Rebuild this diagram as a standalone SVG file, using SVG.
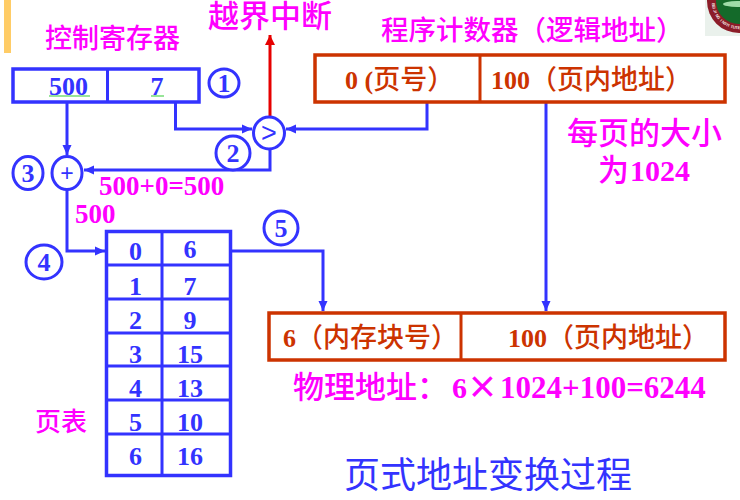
<svg xmlns="http://www.w3.org/2000/svg" width="740" height="500" viewBox="0 0 740 500">
<defs>
<marker id="a" markerUnits="userSpaceOnUse" markerWidth="11" markerHeight="10" refX="10" refY="5" orient="auto"><path d="M0 .5L10 5L0 9.500z" fill="#3333ff"/></marker>
<marker id="r" markerUnits="userSpaceOnUse" markerWidth="11" markerHeight="10" refX="10" refY="5" orient="auto"><path d="M0 0L10 5L0 10z" fill="#e60000"/></marker>
</defs>
<style>
text{font-family:"Liberation Serif","Noto Sans CJK SC",serif}
.m{fill:#ff00ff;font-weight:700}
.h{fill:#ff00ff;font-weight:500;font-family:"Noto Sans CJK SC","Liberation Sans",sans-serif}
.b{fill:#3333ff;font-weight:700;text-anchor:middle}
.o{fill:#cc3300;font-weight:700;font-size:26px}
.o tspan{font-size:27px;font-weight:500}
.bx{fill:#fff;stroke:#3333ff;stroke-width:3.500}
.ox{fill:#fff;stroke:#cc3300;stroke-width:3.500}
.ln{fill:none;stroke:#3333ff;stroke-width:3}
.c{fill:#fff;stroke:#3333ff;stroke-width:3}
.s{font-family:"Liberation Sans",sans-serif;fill:#3333ff;text-anchor:middle}
.u{stroke:#77dd77;stroke-width:1.500}
</style>
<rect x="4" y="0" width="7" height="53" fill="#ffcc66"/>
<g id="logo">
<rect x="705" y="0" width="35" height="36" fill="#eaf1ec"/>
<circle cx="739" cy="1" r="32" fill="#8c1c28"/>
<circle cx="739" cy="1" r="23" fill="#146a2a"/>
<ellipse cx="737" cy="4" rx="14" ry="3" fill="#9fdca8"/>
<!-- seal lettering set glyph by glyph along the ring -->
<text font-size="4" font-weight="700" fill="#f4e6e6" style="font-family:'Liberation Sans',sans-serif"
 x="712 712.200 712.600 713.300 714.200 715.300 716.600 718 719.700 721.500 723.500 725.600 727.800 730.200 732.500 735 737.500"
 y="2.900 5.400 7.900 10.300 12.600 14.900 17 19 20.900 22.600 24.100 25.500 26.600 27.500 28.200 28.700 29"
 rotate="88 82.700 77.400 72.100 66.800 61.500 56.200 50.900 45.600 40.300 35 29.700 24.400 19.100 13.800 8.500 3.200">BEIJING INSTITUTE</text>
</g>
<g id="connectors">
<path class="ln" d="M67 103V155" marker-end="url(#a)"/>
<path class="ln" d="M175.500 103V129H252" marker-end="url(#a)"/>
<path class="ln" d="M427 103V129H286" marker-end="url(#a)"/>
<path d="M270 116V35" fill="none" stroke="#e60000" stroke-width="3" marker-end="url(#r)"/>
<path class="ln" d="M270 150V170H84" marker-end="url(#a)"/>
<path class="ln" d="M67 190V251H105" marker-end="url(#a)"/>
<path class="ln" d="M216 251H323V311" marker-end="url(#a)"/>
<path class="ln" d="M546 103V311" marker-end="url(#a)"/>
</g>
<g id="control-register">
<rect class="bx" x="13" y="69" width="186" height="33"/><path class="ln" d="M107.500 69V102"/>
<text class="b" x="68.500" y="95" font-size="26">500</text><text class="b" x="157" y="95" font-size="26">7</text>
<path class="u" d="M49 96H90M151 96H164"/>
</g>
<g id="program-counter">
<rect class="ox" x="315" y="55" width="410" height="47"/><path d="M480 55V102" stroke="#cc3300" stroke-width="3"/>
<text class="o" x="345" y="89">0 (<tspan>页号）</tspan></text>
<text class="o" x="491" y="89">100<tspan>（页内地址）</tspan></text>
</g>
<g id="physical-address">
<rect class="ox" x="269" y="313" width="456" height="47"/><path d="M461 313V360" stroke="#cc3300" stroke-width="3"/>
<text class="o" x="283" y="347">6<tspan>（内存块号）</tspan></text>
<text class="o" x="508" y="347">100<tspan>（页内地址）</tspan></text>
</g>
<g id="comparator"><ellipse class="c" cx="269" cy="133" rx="15.500" ry="16"/><text class="s" x="269" y="142" font-size="27">&gt;</text></g>
<g id="adder"><ellipse class="c" cx="67" cy="173" rx="15" ry="16.500"/><text class="s" x="67" y="181" font-size="23">+</text></g>
<g id="step-1"><ellipse class="c" cx="224" cy="83" rx="15" ry="14"/><text class="b" x="224" y="92" font-size="26">1</text></g>
<g id="step-2"><circle class="c" cx="233" cy="153" r="17"/><text class="b" x="233" y="162" font-size="26">2</text></g>
<g id="step-3"><ellipse class="c" cx="28" cy="173" rx="15" ry="16.500"/><text class="b" x="28" y="182" font-size="26">3</text></g>
<g id="step-4"><ellipse class="c" cx="44" cy="262" rx="18" ry="17"/><text class="b" x="44" y="271" font-size="26">4</text></g>
<g id="step-5"><circle class="c" cx="281" cy="228" r="17"/><text class="b" x="281" y="237" font-size="26">5</text></g>
<g id="page-table">
<rect class="bx" x="106.500" y="231.500" width="124" height="244"/>
<path class="ln" d="M162 231V475M106 265H230M106 299H230M106 333H230M106 366H230M106 400H230M106 434H230"/>
<g font-size="26">
<text class="b" x="135.500" y="260">0</text><text class="b" x="190" y="258">6</text>
<text class="b" x="135.500" y="295">1</text><text class="b" x="190" y="295">7</text>
<text class="b" x="135.500" y="329">2</text><text class="b" x="190" y="329">9</text>
<text class="b" x="135.500" y="363">3</text><text class="b" x="190" y="363">15</text>
<text class="b" x="135.500" y="397">4</text><text class="b" x="190" y="397">13</text>
<text class="b" x="135.500" y="431">5</text><text class="b" x="190" y="431">10</text>
<text class="b" x="135.500" y="465">6</text><text class="b" x="190" y="465">16</text>
</g>
</g>
<g id="labels">
<text class="h" x="208" y="27" font-size="31">越界中断</text>
<text class="h" x="45" y="48" font-size="27">控制寄存器</text>
<text class="h" x="381" y="40" font-size="27.500">程序计数器（逻辑地址）</text>
<text class="h" x="567" y="144" font-size="31">每页的大小</text>
<text class="h" x="598" y="181" font-size="31">为</text>
<text class="m" x="630" y="181" font-size="30">1024</text>
<text class="m" x="99" y="195" font-size="27">500+0=500</text>
<text class="m" x="75" y="223" font-size="27">500</text>
<text class="h" x="35" y="431" font-size="26">页表</text>
<text class="h" x="293" y="398" font-size="31">物理地址：</text>
<text class="m" x="452" y="398" font-size="30">6</text>
<text x="482.500" y="402" font-size="46" fill="#ff00ff" text-anchor="middle" style="font-family:'Liberation Sans',sans-serif">×</text>
<text class="m" x="500" y="398" font-size="31">1024+100=6244</text>
<text class="h" x="344" y="488" font-size="36" style="fill:#3333ff;font-weight:400">页式地址变换过程</text>
</g>
</svg>
